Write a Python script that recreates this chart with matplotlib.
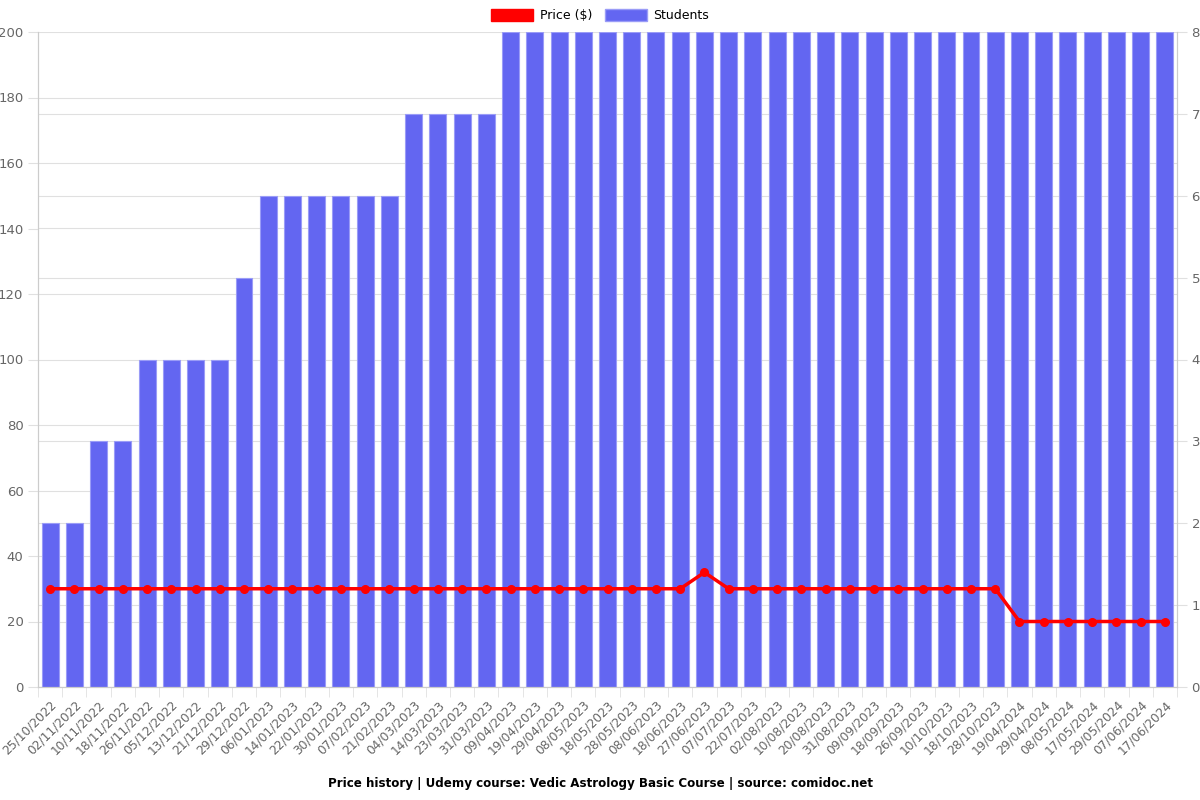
import matplotlib.pyplot as plt
from matplotlib.patches import Patch
from matplotlib.transforms import ScaledTranslation
import numpy as np

dates = ['25/10/2022', '02/11/2022', '10/11/2022', '18/11/2022', '26/11/2022', '05/12/2022',
         '13/12/2022', '21/12/2022', '29/12/2022', '06/01/2023', '14/01/2023', '22/01/2023',
         '30/01/2023', '07/02/2023', '21/02/2023', '04/03/2023', '14/03/2023', '23/03/2023',
         '31/03/2023', '09/04/2023', '19/04/2023', '29/04/2023', '08/05/2023', '18/05/2023',
         '28/05/2023', '08/06/2023', '18/06/2023', '27/06/2023', '07/07/2023', '22/07/2023',
         '02/08/2023', '10/08/2023', '20/08/2023', '31/08/2023', '09/09/2023', '18/09/2023',
         '26/09/2023', '10/10/2023', '18/10/2023', '28/10/2023', '19/04/2024', '29/04/2024',
         '08/05/2024', '17/05/2024', '29/05/2024', '07/06/2024', '17/06/2024']

students = [2, 2, 3, 3, 4, 4, 4, 4, 5, 6, 6, 6, 6, 6, 6, 7, 7, 7, 7] + [8] * 28

price = [30] * 27 + [35] + [30] * 12 + [20] * 7

bar_color = '#6366f1'
grey = '#666666'
grid_color = '#e0e0e0'

fig = plt.figure(figsize=(12, 8), dpi=100)
ax = fig.add_axes([38 / 1200, 113 / 800, 1139 / 1200, 655 / 800])
ax2 = ax.twinx()

x = np.arange(len(dates))

# students bars on the right axis, drawn behind the price line
ax2.bar(x, students, width=0.7, color=bar_color, edgecolor='#9a9cf7', linewidth=0.8)
ax2.set_ylim(0, 8)
ax2.set_yticks(range(0, 9))

ax.plot(x, price, color='#ff0000', linewidth=2.5, marker='o', markersize=5.5)
ax.set_ylim(0, 200)
ax.set_yticks(range(0, 201, 20))
ax.set_xlim(-0.5, len(dates) - 0.5)

ax.set_zorder(ax2.get_zorder() + 1)
ax.patch.set_visible(False)
ax2.set_facecolor('white')

# x labels centred on bars, ticks and grid at category boundaries
ax.set_xticks(x)
ax.set_xticklabels(dates, rotation=45, ha='right', rotation_mode='anchor', fontsize=8.8, color=grey)
offset = ScaledTranslation(6 / 100, 0, fig.dpi_scale_trans)
for lbl in ax.get_xticklabels():
    lbl.set_transform(lbl.get_transform() + offset)
ax.set_xticks(np.arange(-0.5, len(dates), 1), minor=True)
ax.tick_params(axis='x', which='major', length=0, pad=8)
ax.tick_params(axis='x', which='minor', length=7, color=grid_color)

# grid lines of both y scales sit behind the bars
ax2.set_xticks(np.arange(-0.5, len(dates), 1), minor=True)
ax2.set_yticks(np.arange(0, 8.01, 0.8), minor=True)
ax2.tick_params(axis='both', which='minor', length=0)
ax2.grid(True, which='minor', color=grid_color, linewidth=0.8)
ax2.grid(True, which='major', axis='y', color=grid_color, linewidth=0.8)
ax2.set_axisbelow(True)

ax.tick_params(axis='y', length=7, color=grid_color, labelsize=9.5, labelcolor=grey)
ax2.tick_params(axis='y', which='major', length=7, color=grid_color, labelsize=9.5, labelcolor=grey)

for a in (ax, ax2):
    for s in a.spines.values():
        s.set_color('#cccccc')
    a.spines['top'].set_visible(False)

handles = [Patch(facecolor='#ff0000', edgecolor='#ff0000'),
           Patch(facecolor=bar_color, edgecolor='#9a9cf7')]
fig.legend(handles, ['Price ($)', 'Students'], loc='upper center', bbox_to_anchor=(0.5, 1.0),
           ncol=2, frameon=False, fontsize=9, handlelength=3.4, handleheight=1.1,
           columnspacing=1.0, handletextpad=0.5, borderaxespad=0.3)

fig.text(0.5, 1 - 783 / 800, 'Price history | Udemy course: Vedic Astrology Basic Course | source: comidoc.net',
         ha='center', va='center', fontsize=8.6, fontweight='bold')

fig.savefig('out.png', dpi=100)
